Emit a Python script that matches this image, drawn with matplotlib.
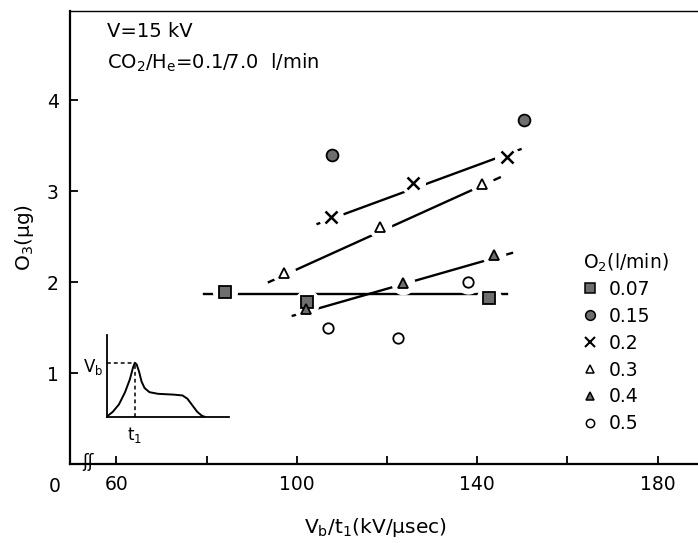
import numpy as np
import matplotlib
matplotlib.use('Agg')
import matplotlib.pyplot as plt
from matplotlib.lines import Line2D

# O2 flow rate (l/min) -> measured points (Vb/t1, O3)
x_007 = [84.1, 102.3, 142.6]
y_007 = [1.89, 1.78, 1.82]
x_015 = [107.7, 150.3]
y_015 = [3.40, 3.78]
x_02 = [107.6, 125.8, 146.5]
y_02 = [2.71, 3.09, 3.38]
x_03 = [97.2, 118.5, 141.0]
y_03 = [2.10, 2.60, 3.08]
x_04 = [102.0, 123.6, 143.8]
y_04 = [1.70, 1.99, 2.30]
x_05 = [106.8, 122.5, 137.9]
y_05 = [1.49, 1.39, 2.00]

# hand drawn trend lines (end points)
fit_007_x = [79.5, 146.6]
fit_007_y = [1.865, 1.865]
fit_02_x = [104.6, 149.6]
fit_02_y = [2.64, 3.46]
fit_03_x = [93.8, 145.0]
fit_03_y = [2.00, 3.15]
fit_04_x = [99.1, 147.7]
fit_04_y = [1.63, 2.32]

# schematic waveform in the inset (unit coords)
wave_t = [0, 0.05, 0.10, 0.15, 0.19, 0.215, 0.23, 0.245, 0.265, 0.285, 0.31, 0.35,
          0.42, 0.55, 0.62, 0.66, 0.70, 0.74, 0.78, 0.80]
wave_v = [0, 0.06, 0.15, 0.30, 0.46, 0.60, 0.66, 0.64, 0.55, 0.43, 0.35, 0.30,
          0.28, 0.27, 0.26, 0.22, 0.14, 0.06, 0.01, 0.0]
t1, vb = 0.23, 0.66

plt.rcParams['font.family'] = 'DejaVu Sans'
plt.rcParams['mathtext.default'] = 'regular'

W, H = 698, 543
fig = plt.figure(figsize=(W / 100, H / 100), dpi=100)
ax = fig.add_axes([70 / W, 1 - 464 / H, 1 - 70 / W + 0.01, (464 - 11) / H])

ax.set_xlim(49.7, 190.5)
ax.set_ylim(0, 4.98)

grey = '#6e6e6e'
lw = 1.7

for fx, fy in [(fit_007_x, fit_007_y), (fit_02_x, fit_02_y),
               (fit_03_x, fit_03_y), (fit_04_x, fit_04_y)]:
    ax.plot(fx, fy, color='black', lw=lw, zorder=2)

series = [
    (x_007, y_007, 's', grey, 'black', 8, '0.07'),
    (x_015, y_015, 'o', grey, 'black', 8.5, '0.15'),
    (x_02, y_02, 'x', 'black', 'black', 8, '0.2'),
    (x_03, y_03, '^', 'white', 'black', 7, '0.3'),
    (x_04, y_04, '^', grey, 'black', 7, '0.4'),
    (x_05, y_05, 'o', 'white', 'black', 7.5, '0.5'),
]

handles = []
for xs, ys, m, fc, ec, ms, lab in series:
    # white halo leaves a gap in the trend line around each point
    ax.plot(xs, ys, ls='none', marker='o', ms=ms + 9, mfc='white', mec='white', zorder=3)
for xs, ys, m, fc, ec, ms, lab in series:
    ax.plot(xs, ys, ls='none', marker=m, ms=ms, mfc=fc, mec=ec,
            mew=1.8 if m == 'x' else 1.3, zorder=4)
    handles.append(Line2D([], [], ls='none', marker=m, ms=ms - 1.5, mfc=fc, mec=ec,
                          mew=1.5 if m == 'x' else 1.1, label=lab))

ax.spines['right'].set_visible(False)
for s in ['left', 'bottom']:
    ax.spines[s].set_linewidth(1.6)
ax.spines['top'].set_linewidth(1.0)

ax.set_xticks([60, 80, 100, 120, 140, 160, 180])
ax.set_xticklabels(['60', '', '100', '', '140', '', '180'])
ax.set_yticks([1, 2, 3, 4])
ax.tick_params(direction='in', length=6, width=1.3, labelsize=13.5)
ax.tick_params(axis='x', pad=8)
ax.tick_params(axis='y', pad=8)

ax.set_ylabel('O$_3$(μg)', fontsize=14.5, labelpad=8)
ax.set_xlabel('V$_b$/t$_1$(kV/μsec)', fontsize=14.5)
ax.xaxis.set_label_coords((375 - 70) / (W - 70 + 7), -0.115)

fig.text(55 / W, 1 - 486 / H, '0', fontsize=13.5, ha='center', va='center')
# axis break mark
fig.text(88 / W, 1 - 462 / H, 'ʃʃ', fontsize=12, ha='center', va='center')

ax.text(0.058, 0.955, 'V=15 kV', transform=ax.transAxes, fontsize=14, va='center')
ax.text(0.058, 0.885, 'CO$_2$/H$_e$=0.1/7.0  l/min', transform=ax.transAxes,
        fontsize=14, va='center')

fig.text(583 / W, 1 - 263 / H, 'O$_2$(l/min)', fontsize=13.5, va='center')
fig.legend(handles=handles, loc='upper left', bbox_to_anchor=(582 / W, 1 - 280 / H),
           frameon=False, fontsize=13.5, handlelength=0.8, handletextpad=0.6,
           labelspacing=0.42, borderpad=0, borderaxespad=0)

# inset sketch of the voltage pulse
ins = fig.add_axes([106.7 / W, 1 - 416.7 / H, (229 - 106.7) / W, (416.7 - 335) / H])
ins.plot(wave_t, wave_v, color='black', lw=1.4)
ins.plot([0, t1], [vb, vb], color='black', lw=1.1, ls=(0, (2.5, 2)))
ins.plot([t1, t1], [0, vb], color='black', lw=1.1, ls=(0, (2.5, 2)))
ins.set_xlim(0, 1)
ins.set_ylim(0, 1)
ins.set_xticks([])
ins.set_yticks([])
ins.patch.set_alpha(0)
for s in ['top', 'right']:
    ins.spines[s].set_visible(False)
for s in ['left', 'bottom']:
    ins.spines[s].set_linewidth(1.3)
ins.text(-0.03, vb - 0.05, 'V$_b$', fontsize=12, ha='right', va='center')
ins.text(t1, -0.1, 't$_1$', fontsize=12, ha='center', va='top')

fig.savefig('out.png', dpi=100)
